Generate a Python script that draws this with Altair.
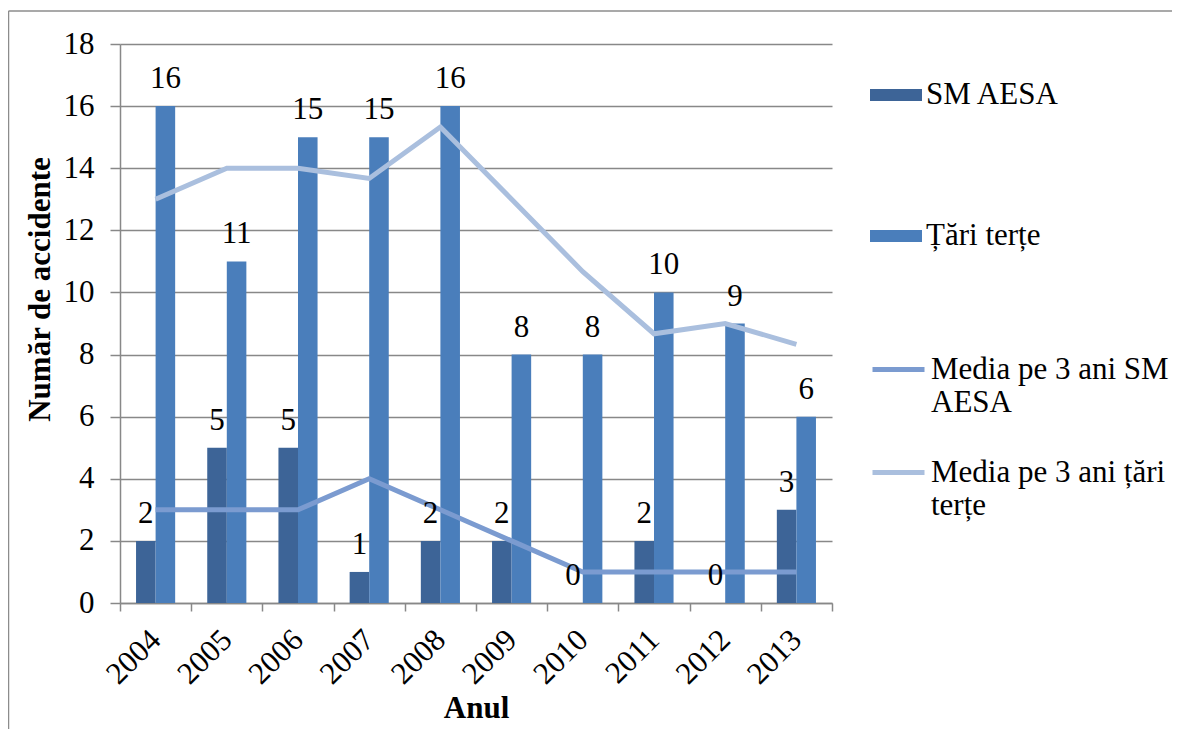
import altair as alt
import pandas as pd

years = ["2004", "2005", "2006", "2007", "2008", "2009", "2010", "2011", "2012", "2013"]
sm_aesa = [2, 5, 5, 1, 2, 2, 0, 2, 0, 3]
tari_terte = [16, 11, 15, 15, 16, 8, 8, 10, 9, 6]
media_sm = [3, 3, 3, 4, 3, 2, 1, 1, 1, 1]
media_tari = [13, 14, 14, 13.67, 15.33, 13, 10.67, 8.67, 9, 8.33]

bar_series = ["SM AESA", "Țări terțe"]
line_series = ["Media pe 3 ani SM AESA", "Media pe 3 ani țări terțe"]
bar_colors = ["#3D6497", "#4A7EBB"]
line_colors = ["#7B9BD0", "#AABFDE"]

FONT = "Liberation Serif"
FS = 31
GREY = "#888888"

bars_df = pd.DataFrame(
    [{"an": y, "serie": bar_series[0], "valoare": v} for y, v in zip(years, sm_aesa)]
    + [{"an": y, "serie": bar_series[1], "valoare": v} for y, v in zip(years, tari_terte)]
)
lines_df = pd.DataFrame(
    [{"an": y, "serie": line_series[0], "valoare": v} for y, v in zip(years, media_sm)]
    + [{"an": y, "serie": line_series[1], "valoare": v} for y, v in zip(years, media_tari)]
)

x_enc = alt.X(
    "an:N",
    sort=years,
    scale=alt.Scale(paddingInner=0, paddingOuter=0),
    axis=alt.Axis(
        title="Anul",
        titleFont=FONT,
        titleFontSize=FS,
        titleFontWeight="bold",
        titleColor="black",
        titlePadding=4,
        labelFont=FONT,
        labelFontSize=FS,
        labelColor="black",
        labelAngle=315,
        labelAlign="right",
        labelBaseline="middle",
        labelPadding=24,
        tickBand="extent",
        tickSize=8,
        tickColor=GREY,
        tickWidth=1.5,
        domainColor=GREY,
        domainWidth=1.5,
        grid=False,
    ),
)

y_enc = alt.Y(
    "valoare:Q",
    scale=alt.Scale(domain=[0, 18], nice=False),
    axis=alt.Axis(
        title="Număr de accidente",
        titleFont=FONT,
        titleFontSize=FS,
        titleFontWeight="bold",
        titleColor="black",
        titleX=-80,
        titleY=245,
        titleBaseline="middle",
        values=list(range(0, 19, 2)),
        labelFont=FONT,
        labelFontSize=FS,
        labelColor="black",
        labelPadding=16,
        tickSize=10,
        tickColor=GREY,
        tickWidth=1.5,
        domainColor=GREY,
        domainWidth=1.5,
        gridColor=GREY,
        gridWidth=1.5,
    ),
)

xoff = alt.XOffset(
    "serie:N",
    sort=bar_series,
    scale=alt.Scale(paddingInner=0, paddingOuter=0.82),
)

bars = alt.Chart(bars_df).mark_bar(strokeWidth=0).encode(
    x=x_enc,
    y=y_enc,
    xOffset=xoff,
    fill=alt.Fill(
        "serie:N",
        sort=bar_series,
        scale=alt.Scale(domain=bar_series, range=bar_colors),
        legend=alt.Legend(
            orient="none",
            legendX=750,
            legendY=25,
            title=None,
            symbolType="M-1,-0.23H1V0.23H-1Z",
            symbolSize=2704,
            symbolStrokeWidth=0,
            labelFont=FONT,
            labelFontSize=FS,
            labelColor="black",
            labelLimit=320,
            labelOffset=4,
            rowPadding=100,
            padding=0,
        ),
    ),
)

labels = alt.Chart(bars_df).mark_text(
    font=FONT, fontSize=FS, color="black", baseline="alphabetic", dy=-18
).encode(
    x=alt.X("an:N", sort=years),
    y=alt.Y("valoare:Q"),
    xOffset=xoff,
    text=alt.Text("valoare:Q", format="d"),
)

label_expr = (
    "datum.label == 'Media pe 3 ani SM AESA' ? ['Media pe 3 ani SM', 'AESA'] : "
    "['Media pe 3 ani țări', 'terțe']"
)

lines = alt.Chart(lines_df).mark_line(strokeWidth=5).encode(
    x=alt.X("an:N", sort=years),
    y=alt.Y("valoare:Q"),
    stroke=alt.Stroke(
        "serie:N",
        sort=line_series,
        scale=alt.Scale(domain=line_series, range=line_colors),
        legend=alt.Legend(
            orient="none",
            legendX=750,
            legendY=297,
            title=None,
            symbolType="stroke",
            symbolSize=2704,
            symbolStrokeWidth=5,
            labelFont=FONT,
            labelFontSize=FS,
            labelColor="black",
            labelLimit=320,
            labelOffset=4,
            labelExpr=label_expr,
            rowPadding=26,
            padding=0,
        ),
    ),
)

frame_df = pd.DataFrame({"k": [0]})
frame_top = alt.Chart(frame_df).mark_rule(stroke="#8C8C8C", strokeWidth=1.5).encode(
    x=alt.value(-111.5), x2=alt.value(1052), y=alt.value(-33)
)
frame_left = alt.Chart(frame_df).mark_rule(stroke="#8C8C8C", strokeWidth=1.5).encode(
    x=alt.value(-111.5), y=alt.value(-33), y2=alt.value(700)
)

chart = (
    alt.layer(frame_top, frame_left, bars, lines, labels)
    .resolve_scale(fill="independent", stroke="independent")
    .properties(
        width=712,
        height=559,
        autosize=alt.AutoSizeParams(type="none"),
        padding={"left": 112, "top": 36, "right": 340, "bottom": 126},
        background="white",
    )
    .configure_view(stroke=None)
)

chart.save("out.html", embed_options={"renderer": "svg", "actions": False})
